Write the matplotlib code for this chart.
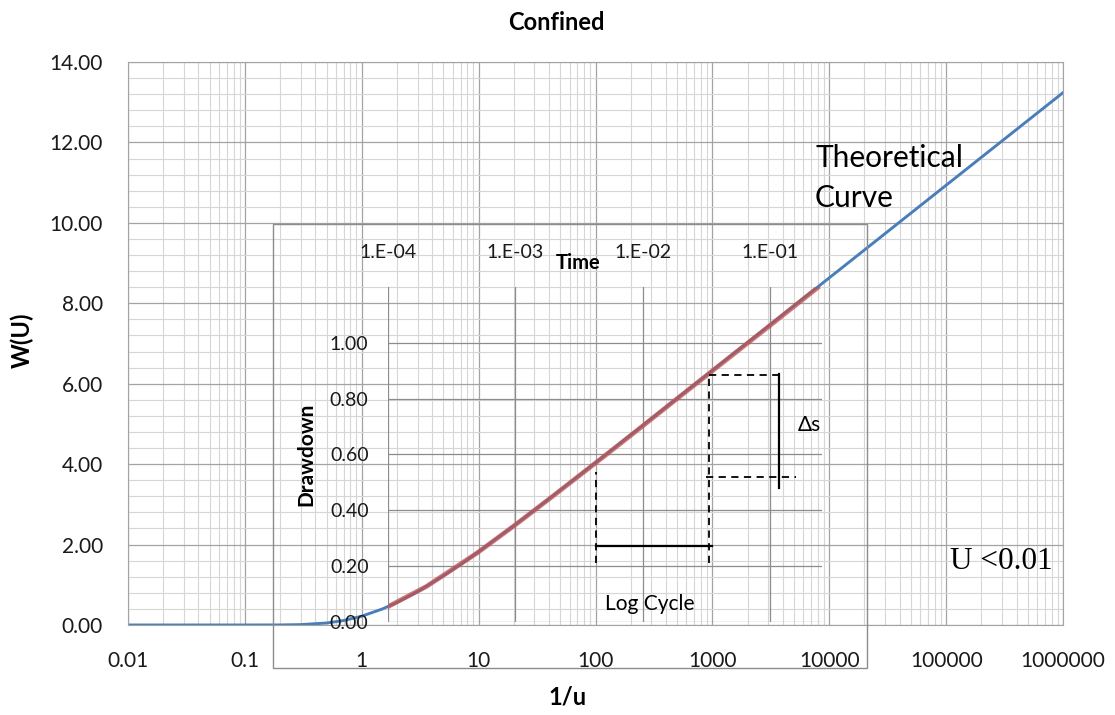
import matplotlib.pyplot as plt
import numpy as np
from matplotlib.ticker import MultipleLocator, LogLocator, NullFormatter, NullLocator
from matplotlib.patches import Rectangle

plt.rcParams['font.family'] = ['Lato', 'DejaVu Sans']

# theoretical curve W(u) against 1/u
inv_u = [0.01, 0.1, 0.2, 0.3, 0.5, 0.7, 1, 1.5, 2, 3, 5, 7, 10, 20, 30, 50,
         100, 200, 500, 1e3, 2e3, 5e3, 1e4, 2e4, 5e4, 1e5, 2e5, 5e5, 1e6]
w_u = [0.0, 0.00001, 0.0012, 0.0089, 0.049, 0.111, 0.219, 0.398, 0.560, 0.829,
       1.223, 1.504, 1.823, 2.468, 2.857, 3.355, 4.038, 4.726, 5.639, 6.332,
       7.024, 7.940, 8.633, 9.326, 10.243, 10.936, 11.629, 12.545, 13.238]

# field data (inset): time against drawdown
time = [1e-4, 2e-4, 5e-4, 1e-3, 2e-3, 5e-3, 1e-2, 2e-2, 5e-2, 0.1, 0.2, 0.236]
drawdown = [0.055, 0.127, 0.247, 0.348, 0.453, 0.594, 0.702, 0.811, 0.954,
            1.062, 1.171, 1.197]

x_ticks = [0.01, 0.1, 1, 10, 100, 1000, 10000, 100000, 1000000]
x_labels = ["0.01", "0.1", "1", "10", "100", "1000", "10000", "100000", "1000000"]
y_ticks = [0, 2, 4, 6, 8, 10, 12, 14]

t_ticks = [1e-4, 1e-3, 1e-2, 1e-1]
t_labels = ["1.E-04", "1.E-03", "1.E-02", "1.E-01"]
s_ticks = [0, 0.2, 0.4, 0.6, 0.8, 1.0]

blue = "#4a7ebb"
red = "#c0504d"

fig = plt.figure(figsize=(11.15, 7.15), dpi=100)
ax = fig.add_axes([0.1148, 0.1259, 0.8386, 0.7874])
ax.set_xscale("log")
ax.set_xlim(0.01, 1e6)
ax.set_ylim(0, 14)
ax.set_xticks(x_ticks)
ax.set_xticklabels(x_labels)
ax.xaxis.set_minor_locator(LogLocator(base=10, subs=range(2, 10), numticks=30))
ax.xaxis.set_minor_formatter(NullFormatter())
ax.set_yticks(y_ticks)
ax.set_yticklabels([f"{v:.2f}" for v in y_ticks])
ax.yaxis.set_minor_locator(MultipleLocator(0.4))
ax.grid(which="major", color="#a3a3a3", lw=0.9)
ax.grid(which="minor", color="#d6d6d6", lw=0.8)
ax.set_axisbelow(True)
ax.tick_params(which="both", length=0, labelcolor="#1a1a1a")
ax.tick_params(axis="x", pad=19, labelsize=15)
ax.tick_params(axis="y", pad=18, labelsize=15)
for sp in ax.spines.values():
    sp.set_color("#a3a3a3")
ax.plot(inv_u, w_u, color=blue, lw=2.1)

fig.text(0.4987, 0.969, "Confined", ha="center", va="center", fontsize=17, fontweight="bold")
fig.text(0.509, 0.025, "1/u", ha="center", va="center", fontsize=17, fontweight="bold")
fig.text(0.0197, 0.5245, "W(U)", ha="center", va="center", rotation=90, fontsize=17, fontweight="bold")
fig.text(0.731, 1 - 167 / 715, "Theoretical", ha="left", va="baseline", fontsize=21.5)
fig.text(0.731, 1 - 207 / 715, "Curve", ha="left", va="baseline", fontsize=21.5)
fig.text(0.852, 0.204, "U <0.01", ha="left", va="baseline", fontsize=22.5, family="Liberation Serif")

# box of the pasted drawdown chart
fig.add_artist(Rectangle((0.2448, 0.0657), 0.5328, 0.621, transform=fig.transFigure,
                         fill=False, ec="#8c8c8c", lw=1))

ax2 = fig.add_axes([0.348, 0.1301, 0.3892, 0.4685])
ax2.set_facecolor("none")
ax2.set_xscale("log")
ax2.set_xlim(1e-4, 0.256)
ax2.set_ylim(0, 1.2)
ax2.xaxis.tick_top()
ax2.set_xticks(t_ticks)
ax2.set_xticklabels(t_labels)
ax2.xaxis.set_minor_locator(NullLocator())
ax2.set_yticks(s_ticks)
ax2.set_yticklabels([f"{v:.2f}" for v in s_ticks])
ax2.grid(color="#8c8c8c", lw=0.9)
ax2.tick_params(length=0, labelsize=14, labelcolor="#1a1a1a")
ax2.tick_params(axis="x", pad=19)
ax2.tick_params(axis="y", pad=14)
for sp in ax2.spines.values():
    sp.set_visible(False)
ax2.plot(time, drawdown, color=red, lw=3.4, alpha=0.75)

ax2.text(0.438, 1.072, "Time", transform=ax2.transAxes, ha="center", va="center",
         fontsize=14.5, fontweight="bold")
ax2.text(-0.187, 0.5, "Drawdown", transform=ax2.transAxes, ha="center", va="center",
         rotation=90, fontsize=15, fontweight="bold")

# slope construction
dash = dict(color="black", ls=(0, (4, 3)), lw=1.3)
ax2.plot([0.0043, 0.0043], [0.211, 0.537], **dash)
ax2.plot([0.0329, 0.0329], [0.211, 0.885], **dash)
ax2.plot([0.0329, 0.129], [0.885, 0.885], **dash)
ax2.plot([0.0317, 0.161], [0.518, 0.518], **dash)
ax2.plot([0.0043, 0.0348], [0.2725, 0.2725], color="black", lw=1.6)
ax2.plot([0.1187, 0.1187], [0.480, 0.889], color="black", lw=1.6)
ax2.text(0.204, 0.704, "Δs", ha="center", va="center", fontsize=15)
ax2.text(0.01135, 0.064, "Log Cycle", ha="center", va="center", fontsize=15)

fig.savefig("out.png", dpi=100)
